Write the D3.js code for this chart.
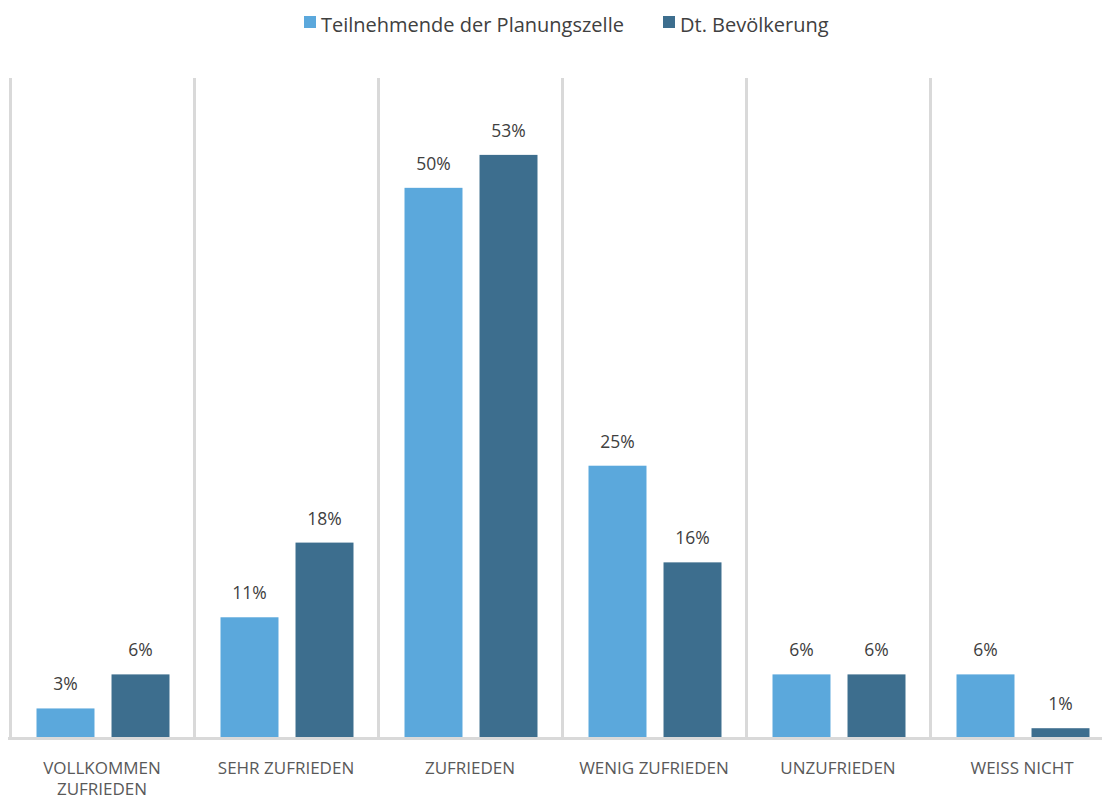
<!DOCTYPE html>
<html lang="de">
<head>
<meta charset="utf-8">
<title>Zufriedenheit</title>
<script src="https://d3js.org/d3.v7.min.js"></script>
<style>
  body { margin: 0; background: #fff; }
  svg { font-family: "Open Sans", sans-serif; display: block; }
</style>
</head>
<body>
<svg width="1102" height="799"></svg>
<script>
  const categories = ["VOLLKOMMEN ZUFRIEDEN", "SEHR ZUFRIEDEN", "ZUFRIEDEN", "WENIG ZUFRIEDEN", "UNZUFRIEDEN", "WEISS NICHT"];
  const seriesNames = ["Teilnehmende der Planungszelle", "Dt. Bevölkerung"];
  const teilnehmende = [2.6, 10.9, 50.0, 24.7, 5.7, 5.7];
  const bevoelkerung = [5.7, 17.7, 53.0, 15.9, 5.7, 0.8];
  const labelsTeil = ["3%", "11%", "50%", "25%", "6%", "6%"];
  const labelsBev = ["6%", "18%", "53%", "16%", "6%", "1%"];
  const colors = ["#5ba8dc", "#3d6e8e"];

  const svg = d3.select("svg");
  const margin = { top: 78, left: 10, bottom: 737 };
  const bandW = 184;

  const x = d3.scaleBand()
    .domain(categories)
    .range([margin.left, margin.left + bandW * categories.length])
    .padding(0);

  const xInner = d3.scaleBand()
    .domain([0, 1])
    .range([0, bandW])
    .paddingInner(0.227)
    .paddingOuter(0.34);

  const y = d3.scaleLinear().domain([0, 60]).range([margin.bottom, margin.top]);

  // vertical separators
  svg.append("g")
    .selectAll("line")
    .data(categories)
    .join("line")
    .attr("x1", d => x(d) + 0.5)
    .attr("x2", d => x(d) + 0.5)
    .attr("y1", y(60))
    .attr("y2", y(0))
    .attr("stroke", "#d9d9d9")
    .attr("stroke-width", 3);

  const rows = categories.map((c, i) => ({
    cat: c,
    vals: [
      { s: 0, v: teilnehmende[i], label: labelsTeil[i] },
      { s: 1, v: bevoelkerung[i], label: labelsBev[i] }
    ]
  }));

  const groups = svg.append("g")
    .selectAll("g")
    .data(rows)
    .join("g")
    .attr("transform", d => "translate(" + (x(d.cat) + 1) + ",0)");

  groups.selectAll("rect")
    .data(d => d.vals)
    .join("rect")
    .attr("x", d => xInner(d.s))
    .attr("width", xInner.bandwidth())
    .attr("y", d => y(d.v))
    .attr("height", d => y(0) - y(d.v))
    .attr("fill", d => colors[d.s]);

  groups.selectAll("text")
    .data(d => d.vals)
    .join("text")
    .attr("x", d => xInner(d.s) + xInner.bandwidth() / 2)
    .attr("y", d => y(d.v) - 18)
    .attr("text-anchor", "middle")
    .attr("fill", "#404040")
    .style("font-size", "17.5px")
    .text(d => d.label);

  // baseline
  svg.append("line")
    .attr("x1", 8)
    .attr("x2", 1102)
    .attr("y1", y(0) + 1.5)
    .attr("y2", y(0) + 1.5)
    .attr("stroke", "#d9d9d9")
    .attr("stroke-width", 3);

  // category labels with wrapping
  const catLabels = svg.append("g")
    .selectAll("text")
    .data(categories)
    .join("text")
    .attr("x", d => x(d) + bandW / 2)
    .attr("y", 774)
    .attr("text-anchor", "middle")
    .attr("fill", "#595959")
    .style("font-size", "17px");

  catLabels.each(function (d) {
    const t = d3.select(this);
    const words = d.split(" ");
    let line = [];
    let tspan = t.append("tspan").attr("x", x(d) + bandW / 2).attr("dy", 0);
    words.forEach(w => {
      line.push(w);
      tspan.text(line.join(" "));
      if (tspan.node().getComputedTextLength() > 160 && line.length > 1) {
        line.pop();
        tspan.text(line.join(" "));
        line = [w];
        tspan = t.append("tspan").attr("x", x(d) + bandW / 2).attr("dy", 21).text(w);
      }
    });
  });

  // legend
  const legend = svg.append("g");
  const legendX = [304, 663];
  seriesNames.forEach((name, i) => {
    legend.append("rect")
      .attr("x", legendX[i])
      .attr("y", 16)
      .attr("width", 12)
      .attr("height", 12)
      .attr("fill", colors[i]);
    legend.append("text")
      .attr("x", legendX[i] + 17)
      .attr("y", 32)
      .attr("fill", "#404040")
      .style("font-size", "20px")
      .text(name);
  });
</script>
</body>
</html>
